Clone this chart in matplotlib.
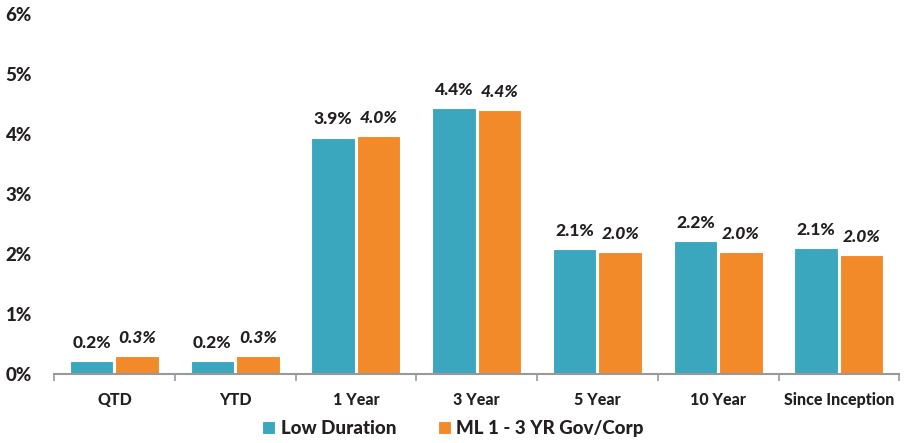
import numpy as np
import matplotlib.pyplot as plt
from matplotlib.ticker import FixedLocator

# Data
categories = ['QTD', 'YTD', '1 Year', '3 Year', '5 Year', '10 Year', 'Since Inception']
low_duration = [0.22, 0.22, 3.94, 4.43, 2.08, 2.21, 2.10]
ml_gov_corp = [0.30, 0.30, 3.96, 4.40, 2.03, 2.03, 1.98]
low_labels = ['0.2%', '0.2%', '3.9%', '4.4%', '2.1%', '2.2%', '2.1%']
ml_labels = ['0.3%', '0.3%', '4.0%', '4.4%', '2.0%', '2.0%', '2.0%']
y_ticks = [0, 1, 2, 3, 4, 5, 6]

teal = '#3AA7BF'
orange = '#F28A29'
text_col = '#231F20'

plt.rcParams['font.family'] = ['Lato', 'DejaVu Sans']

fig = plt.figure(figsize=(9.06, 4.43), dpi=100)
ax = fig.add_axes([0.0596, 0.156, 0.933, 0.812])

x = np.arange(len(categories))
w = 0.36
b1 = ax.bar(x - w / 2 - 0.008, low_duration, w, color=teal, edgecolor='white',
            linewidth=0.8, label='Low Duration')
b2 = ax.bar(x + w / 2 + 0.008, ml_gov_corp, w, color=orange, edgecolor='white',
            linewidth=0.8, label='ML 1 - 3 YR Gov/Corp')

for rect, lab in zip(b1, low_labels):
    ax.text(rect.get_x() + rect.get_width() / 2, rect.get_height() + 0.17, lab,
            ha='center', va='bottom', fontsize=12.5, fontweight='black', color=text_col)
for rect, lab in zip(b2, ml_labels):
    ax.text(rect.get_x() + rect.get_width() / 2, rect.get_height() + 0.17, lab,
            ha='center', va='bottom', fontsize=12.5, fontweight='black',
            fontstyle='italic', color=text_col)

ax.set_xlim(-0.5, len(categories) - 0.5)
ax.set_ylim(0, 6)
ax.set_yticks(y_ticks)
ax.set_yticklabels([f'{v}%' for v in y_ticks], fontsize=13.5, fontweight='black', color=text_col)
ax.tick_params(axis='y', length=0, pad=16)

ax.set_xticks(x)
ax.set_xticklabels(categories, fontsize=11.5, fontweight='black', color=text_col)
ax.tick_params(axis='x', which='major', length=0, pad=13)
ax.xaxis.set_minor_locator(FixedLocator(np.arange(len(categories) + 1) - 0.5))
ax.tick_params(axis='x', which='minor', length=5, width=1.2, color='#999999')

for s in ['top', 'right', 'left']:
    ax.spines[s].set_visible(False)
ax.spines['bottom'].set_color('#999999')
ax.spines['bottom'].set_linewidth(1.5)

leg = fig.legend(handles=[b1, b2], loc='lower center', bbox_to_anchor=(0.5, -0.025),
                 ncol=2, frameon=False, prop={'weight': 'black', 'size': 13.5},
                 handlelength=0.7, handleheight=0.7, handletextpad=0.3, columnspacing=2.2)
for t in leg.get_texts():
    t.set_color(text_col)

fig.savefig('out.png', dpi=100)
